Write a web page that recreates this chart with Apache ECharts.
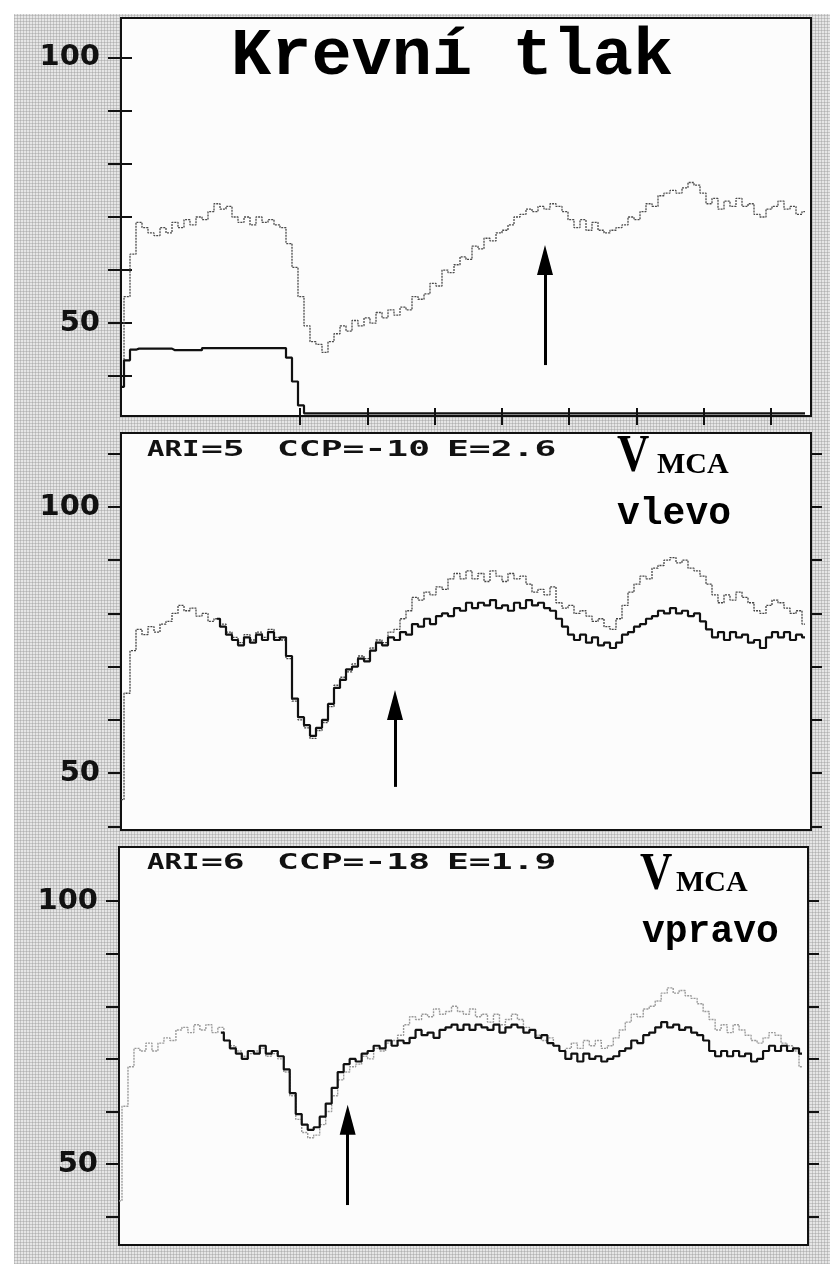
<!DOCTYPE html>
<html>
<head>
<meta charset="utf-8">
<script src="https://cdn.jsdelivr.net/npm/echarts@6/dist/echarts.min.js"></script>
<style>
  html, body { margin: 0; padding: 0; background: #ffffff; }
  #wrap { position: relative; width: 830px; height: 1264px; overflow: hidden; }
  #paper {
    position: absolute; left: 14px; top: 14px; right: 0; bottom: 0;
    background-color: #e6e6e6;
    background-image:
      repeating-linear-gradient(0deg, rgba(150,150,150,0.4) 0 1px, transparent 1px 3px),
      repeating-linear-gradient(90deg, rgba(150,150,150,0.4) 0 1px, transparent 1px 3px);
  }
  #chart { position: absolute; left: 0; top: 0; width: 830px; height: 1264px; }
</style>
</head>
<body>
<div id="wrap">
  <div id="paper"></div>
  <div id="chart"></div>
</div>
<script>
// ---- sample times (shared time grid, arbitrary units) ----
const time = [
  0,6,12,18,24,30,36,42,48,54,
  60,66,72,78,84,90,96,102,108,114,
  120,126,132,138,144,150,156,162,168,174,
  180,186,192,198,204,210,216,222,228,234,
  240,246,252,258,264,270,276,282,288,294,
  300,306,312,318,324,330,336,342,348,354,
  360,366,372,378,384,390,396,402,408,414,
  420,426,432,438,444,450,456,462,468,474,
  480,486,492,498,504,510,516,522,528,534,
  540,546,552,558,564,570,576,582,588,594,
  600,606,612,618,624,630,636,642,648,654,
  660,666,672,678,684
];

// ---- Panel 1: Krevní tlak ----
const bpTrace = [
  38,55,63,69,68,67,66.5,68,67,69,
  68,69.5,68.5,70,69.5,71,72.5,71.5,72,70,
  69,70,68.5,70,69,69.5,68.5,68,65,60.5,
  55,49.5,46.5,46,44.5,46.5,48,49.5,48.5,50.5,
  49.5,51,50,52,51,52.5,51.5,53,52.5,55,
  54.5,55.5,57.5,57,60,59.5,61,62.5,62,64.5,
  64,66,65.5,67,67.5,68.5,70,70.5,71.5,71,
  72,71.5,72.5,72,71,69.5,68,69.5,67.5,69,
  67.5,67,67.5,68,68.5,70,69.5,71,72.5,72,
  74,74.5,75,74.5,75.5,76.5,76,74.5,72.5,73.5,
  71.5,73,72,73.5,72,72.5,70.5,70,71.5,72,
  73,71.5,72,70.5,71
];
const cuffTime = [0,6,12,18,48,54,78,84,162,168,174,180,186,684];
const cuffTrace = [38,43,45,45.2,45.2,44.9,44.9,45.3,45.3,43.5,39,34.5,33,33];

// ---- Panel 2: VMCA vlevo ----
const leftGray = [
  45,65,73,77,76,77.5,76.5,78,78.5,80,
  81.5,80.5,81,79.5,80,78.5,79,78,76.5,75.5,
  74.5,76,75,76.5,75.5,77,75.5,75,71.5,63.5,
  60,58.5,56.5,58,59.5,62.5,66.5,68,69,70.5,
  72,71.5,73.5,75,74.5,76.5,77,79,80.5,83,
  82.5,84,83.5,85,84.5,86.5,87.5,86.5,88,86.5,
  87.5,86,88,87,86,87.5,86.5,87,85.5,84,
  84.5,83.5,85,82,81,81.5,80,80.5,79.5,78.5,
  79,77.5,77,79,81.5,84,85.5,87,86.5,88.5,
  89,90,90.5,89.5,90,88.5,88,87,85.5,83.5,
  82,83.5,82.5,84,83,82,80.5,80,81.5,82.5,
  82,81,80,80.5,78
];
const leftBlack = [
  null,null,null,null,null,null,null,null,null,null,
  null,null,null,null,null,null,79,77.5,76,75,
  74,75.5,74.5,76,75,76.5,75,75.5,72,64,
  60.5,59,57,58.5,60,63,66,67.5,69.5,70,
  71.5,71,73,74.5,74,75.5,75,76.5,76,78,
  77.5,79,78,79.5,80,79.5,81,80.5,82,81,
  82,81.5,82.5,81,81.5,80.5,82,81,82.5,81.5,
  82,81,80.5,79,77.5,76,75,76,74.5,75.5,
  74,74.5,73.5,74.5,76,76.5,77.5,78,79,79.5,
  80.5,80,81,80,80.5,79.5,80,78.5,77,75.5,
  76.5,75,76.5,75.5,76,74.5,75,73.5,75.5,76.5,
  75.5,76.5,75,76,75.5
];

// ---- Panel 3: VMCA vpravo ----
const rightGray = [
  43,61,68.5,72,71.5,73,71.5,73,74,73.5,
  75.5,76,75,76.5,75.5,76.5,75,76,73.5,72.5,
  71.5,70.5,71,71.5,72,70.5,71,70,67.5,63,
  58.5,56,55,55.5,57.5,60,63,66,67.5,68.5,
  69,70.5,70,72,71.5,73,73.5,74.5,76.5,78,
  77.5,78.5,78,79.5,78.5,79,80,79,78.5,79.5,
  78,78.5,77,78.5,76.5,77.5,78.5,77.5,76,75.5,
  74.5,73.5,74,72.5,71.5,72,73,72,73.5,72.5,
  73.5,72,72.5,74,75.5,77,78.5,78,79.5,80,
  81,82.5,83.5,82.5,83,82,81.5,80.5,79,77.5,
  75.5,76.5,75,76.5,75.5,74.5,73.5,73,74,75,
  74.5,73,72.5,71.5,68.5
];
const rightBlack = [
  null,null,null,null,null,null,null,null,null,null,
  null,null,null,null,null,null,null,75,73.5,72,
  71,70,71.5,71,72.5,71,71.5,70.5,68,63.5,
  59.5,57.5,56.5,57,59,61.5,64.5,67.5,69,70,
  69.5,71,71.5,72.5,72,73.5,72.5,73.5,73,74,
  75.5,74.5,75,74,75.5,76,76.5,75.5,76.5,75.5,
  76.5,76,75.5,76.5,75,76,76.5,76,75,75.5,
  74,74.5,73,72.5,71.5,70,71,69.5,71,70,
  70.5,69.5,70,70.5,71.5,72,73.5,73,74.5,75,
  76,77,76,76.5,75.5,76,75,74.5,73.5,71.5,
  70.5,71.5,70.5,71.5,70.5,71,69.5,70,71.5,72.5,
  71.5,72.5,71.5,72,71
];

// ---- axis ticks / labels ----
const yTicks12 = [40,50,60,70,80,90,100,110];
const yTicks13 = [40,50,60,70,80,90,100];
const yLabels = [50,100];
const p1TickTimes = [179,247,314,381,448,516,583,650];

// ---- annotations ----
const arrows = [
  {panel: 0, t: 424, from: 42.1, to: 61.9},
  {panel: 1, t: 274, from: 47.4, to: 62.8},
  {panel: 2, t: 229, from: 42.2, to: 58.4}
];
const statText = [
  ['ARI', '=5', 'CCP=-10', 'E=2.6'],
  ['ARI', '=6', 'CCP=-18', 'E=1.9']
];

function pairs(t, v) {
  const out = [];
  for (let i = 0; i < t.length; i++) if (v[i] != null) out.push([t[i], v[i]]);
  return out;
}

const grids = [
  {left: 121, top: 18, width: 690, height: 398, yMin: 32.5, yMax: 107.5, ticks: yTicks13},
  {left: 121, top: 433, width: 690, height: 397, yMin: 39.3, yMax: 113.9, ticks: yTicks12},
  {left: 119, top: 847, width: 689, height: 398, yMin: 34.6, yMax: 110.3, ticks: yTicks13}
];

const option = {
  backgroundColor: 'transparent',
  animation: false,
  grid: grids.map(g => ({
    left: g.left, top: g.top, width: g.width, height: g.height,
    show: true, backgroundColor: '#fcfcfc', borderColor: '#111', borderWidth: 2
  })),
  xAxis: [],
  yAxis: [],
  series: [],
  graphic: []
};

grids.forEach((g, i) => {
  option.xAxis.push({
    type: 'value', gridIndex: i, min: 0, max: 690,
    axisLine: {show: true, lineStyle: {color: '#111', width: 2}},
    axisTick: i === 0
      ? {show: true, customValues: p1TickTimes, length: 9, lineStyle: {color: '#111', width: 2}}
      : {show: false},
    axisLabel: {show: false},
    splitLine: {show: false}
  });
  option.yAxis.push({
    type: 'value', gridIndex: i, min: g.yMin, max: g.yMax, position: 'left',
    axisLine: {show: true, lineStyle: {color: '#111', width: 2}},
    axisTick: {show: true, customValues: g.ticks, length: 13, lineStyle: {color: '#111', width: 2}},
    axisLabel: {
      show: true, customValues: yLabels, margin: 21, color: '#111',
      fontFamily: 'DejaVu Sans', fontWeight: 900, fontSize: 29
    },
    splitLine: {show: false}
  });
  option.yAxis.push({
    type: 'value', gridIndex: i, min: g.yMin, max: g.yMax, position: 'right',
    axisLine: {show: true, lineStyle: {color: '#111', width: 2}},
    axisTick: {show: true, customValues: g.ticks, length: 11, lineStyle: {color: '#111', width: 2}},
    axisLabel: {show: false},
    splitLine: {show: false}
  });
});
// inward half of the crossing ticks on panel 1
option.xAxis.push({
  type: 'value', gridIndex: 0, min: 0, max: 690, position: 'bottom',
  axisLine: {show: false},
  axisTick: {show: true, inside: true, customValues: p1TickTimes, length: 8, lineStyle: {color: '#111', width: 2}},
  axisLabel: {show: false}, splitLine: {show: false}
});

function arrowMark(a) {
  return {
    silent: true, animation: false, label: {show: false},
    lineStyle: {color: '#000', width: 3, type: 'solid'},
    emphasis: {disabled: true},
    data: [[
      {coord: [a.t, a.from], symbol: 'none'},
      {coord: [a.t, a.to], symbol: 'triangle', symbolSize: [16, 30]}
    ]]
  };
}

function line(name, xi, yi, data, color, width, type, z, mark) {
  const s = {
    name, type: 'line', xAxisIndex: xi, yAxisIndex: yi, data,
    step: 'middle', showSymbol: false, symbol: 'none', z,
    lineStyle: {color, width, type}, emphasis: {disabled: true}
  };
  if (mark) s.markLine = mark;
  return s;
}

option.series.push(line('bp', 0, 0, pairs(time, bpTrace), '#4a4a4a', 1.3, [2, 1], 3, arrowMark(arrows[0])));
option.series.push(line('cuff', 0, 0, pairs(cuffTime, cuffTrace), '#111', 2.2, 'solid', 4));
option.series.push(line('leftGray', 1, 2, pairs(time, leftGray), '#444', 1.3, [2, 1], 3, arrowMark(arrows[1])));
option.series.push(line('leftBlack', 1, 2, pairs(time, leftBlack), '#111', 2.2, 'solid', 4));
option.series.push(line('rightGray', 2, 4, pairs(time, rightGray), '#9a9a9a', 1.4, [2, 1], 3, arrowMark(arrows[2])));
option.series.push(line('rightBlack', 2, 4, pairs(time, rightBlack), '#111', 2.2, 'solid', 4));

// ---- texts ----
option.graphic.push({
  type: 'text', x: 231, y: 57, z: 100,
  style: {text: 'Krevní tlak', font: 'bold 67px "Liberation Mono"', fill: '#000', verticalAlign: 'middle'}
});
const statRows = [450, 863];
const statX = [147, 201, 277, 447];
const statScale = [1.32, 1.65, 1.65, 1.65];
statText.forEach((row, r) => {
  row.forEach((s, k) => {
    option.graphic.push({
      type: 'text', x: statX[k], y: statRows[r], scaleX: statScale[k], z: 100,
      style: {text: s, font: 'bold 22px "DejaVu Sans Mono"', fill: '#111', verticalAlign: 'middle'}
    });
  });
});
const vLabels = [
  {vx: 617, mx: 657, base: 475, word: 'vlevo', wx: 617, wbase: 524},
  {vx: 640, mx: 676, base: 893, word: 'vpravo', wx: 642, wbase: 942}
];
vLabels.forEach(l => {
  option.graphic.push({
    type: 'text', x: l.vx, y: l.base - 17.5, scaleX: 0.86, z: 100,
    style: {text: 'V', font: 'bold 52px "Liberation Serif"', fill: '#000', verticalAlign: 'middle'}
  });
  option.graphic.push({
    type: 'text', x: l.mx, y: l.base - 10, z: 100,
    style: {text: 'MCA', font: 'bold 30px "Liberation Serif"', fill: '#000', verticalAlign: 'middle'}
  });
  option.graphic.push({
    type: 'text', x: l.wx, y: l.wbase - 10, z: 100,
    style: {text: l.word, font: 'bold 38px "Liberation Mono"', fill: '#000', verticalAlign: 'middle'}
  });
});

const chart = echarts.init(document.getElementById('chart'), null, {renderer: 'canvas'});
chart.setOption(option);
</script>
</body>
</html>
